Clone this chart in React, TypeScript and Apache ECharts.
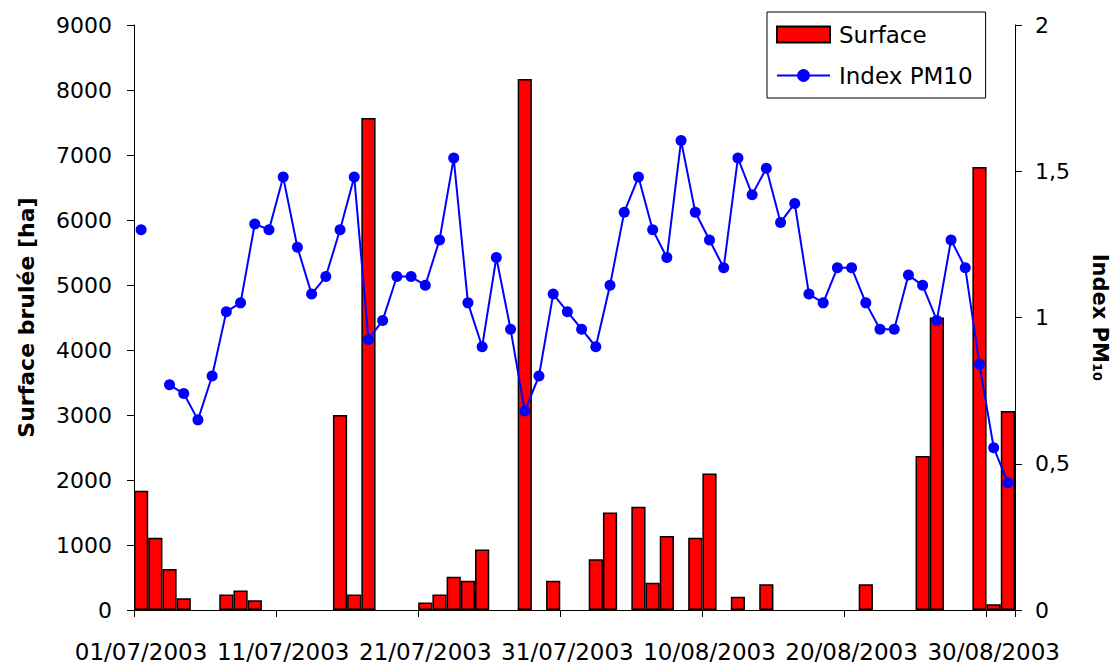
import React, { useEffect, useRef } from "react";
import * as echarts from "echarts";

const categories = [
  "01/07/2003", "02/07/2003", "03/07/2003", "04/07/2003", "05/07/2003", "06/07/2003", "07/07/2003", "08/07/2003", "09/07/2003", "10/07/2003",
  "11/07/2003", "12/07/2003", "13/07/2003", "14/07/2003", "15/07/2003", "16/07/2003", "17/07/2003", "18/07/2003", "19/07/2003", "20/07/2003",
  "21/07/2003", "22/07/2003", "23/07/2003", "24/07/2003", "25/07/2003", "26/07/2003", "27/07/2003", "28/07/2003", "29/07/2003", "30/07/2003",
  "31/07/2003", "01/08/2003", "02/08/2003", "03/08/2003", "04/08/2003", "05/08/2003", "06/08/2003", "07/08/2003", "08/08/2003", "09/08/2003",
  "10/08/2003", "11/08/2003", "12/08/2003", "13/08/2003", "14/08/2003", "15/08/2003", "16/08/2003", "17/08/2003", "18/08/2003", "19/08/2003",
  "20/08/2003", "21/08/2003", "22/08/2003", "23/08/2003", "24/08/2003", "25/08/2003", "26/08/2003", "27/08/2003", "28/08/2003", "29/08/2003",
  "30/08/2003", "31/08/2003",
];

// Surface brulée [ha]
const surface: (number | null)[] = [
  1835, 1110, 630, 180, null, null, 240, 300, 150, null,
  null, null, null, null, 3000, 240, 7570, null, null, null,
  115, 240, 510, 450, 930, null, null, 8170, null, 450,
  null, null, 780, 1500, null, 1590, 420, 1140, null, 1110,
  2100, null, 205, null, 395, null, null, null, null, null,
  null, 395, null, null, null, 2370, 4500, null, null, 6815,
  90, 3060,
];

// Index PM10
const pm10: (number | null)[] = [
  1.30, null, 0.77, 0.74, 0.65, 0.80, 1.02, 1.05, 1.32, 1.30,
  1.48, 1.24, 1.08, 1.14, 1.30, 1.48, 0.925, 0.99, 1.14, 1.14,
  1.11, 1.265, 1.545, 1.05, 0.90, 1.205, 0.96, 0.68, 0.80, 1.08,
  1.02, 0.96, 0.90, 1.11, 1.36, 1.48, 1.30, 1.205, 1.605, 1.36,
  1.265, 1.17, 1.545, 1.42, 1.51, 1.325, 1.39, 1.08, 1.05, 1.17,
  1.17, 1.05, 0.96, 0.96, 1.145, 1.11, 0.99, 1.265, 1.17, 0.84,
  0.555, 0.435,
];

const FONT = "DejaVu Sans";

export default function App() {
  const ref = useRef<HTMLDivElement>(null);

  useEffect(() => {
    if (!ref.current) return;
    const chart = echarts.init(ref.current, undefined, { renderer: "svg" });
    chart.setOption({
      animation: false,
      backgroundColor: "#fff",
      grid: { left: 134, right: 105, top: 25, bottom: 54, containLabel: false },
      legend: {
        orient: "vertical",
        left: 767,
        top: 12,
        itemWidth: 53,
        itemHeight: 16,
        itemGap: 18,
        padding: [11, 13, 11, 9],
        borderColor: "#000",
        borderWidth: 1,
        backgroundColor: "#fff",
        textStyle: { fontFamily: FONT, fontSize: 23, color: "#000", padding: [0, 0, 0, 4] },
        data: [{ name: "Surface", icon: "rect" }, { name: "Index PM10" }],
      },
      xAxis: {
        type: "category",
        data: categories,
        boundaryGap: true,
        axisLine: { show: true, lineStyle: { color: "#000", width: 1 } },
        axisTick: { show: true, interval: 9, length: 7, lineStyle: { color: "#000" } },
        axisLabel: {
          interval: 9,
          margin: 30,
          fontFamily: FONT,
          fontSize: 23,
          color: "#000",
        },
        splitLine: { show: false },
      },
      yAxis: [
        {
          type: "value",
          position: "left",
          min: 0,
          max: 9000,
          interval: 1000,
          axisLine: { show: true, lineStyle: { color: "#000", width: 1 } },
          axisTick: { show: true, length: 7, lineStyle: { color: "#000" } },
          axisLabel: {
            margin: 22,
            fontFamily: FONT,
            fontSize: 22,
            color: "#000",
            formatter: (v: number) => String(v),
          },
          splitLine: { show: false },
          name: "Surface brulée [ha]",
          nameLocation: "middle",
          nameRotate: 90,
          nameGap: 97,
          nameTextStyle: { fontFamily: FONT, fontSize: 22, fontWeight: "bold", color: "#000" },
        },
        {
          type: "value",
          position: "right",
          min: 0,
          max: 2,
          interval: 0.5,
          axisLine: { show: true, lineStyle: { color: "#000", width: 1 } },
          axisTick: { show: true, length: 7, lineStyle: { color: "#000" } },
          axisLabel: {
            margin: 20,
            fontFamily: FONT,
            fontSize: 22,
            color: "#000",
            formatter: (v: number) => String(v).replace(".", ","),
          },
          splitLine: { show: false },
          name: "Index PM₁₀",
          nameLocation: "middle",
          nameRotate: -90,
          nameGap: 74,
          nameTextStyle: { fontFamily: FONT, fontSize: 21, fontWeight: "bold", color: "#000" },
        },
      ],
      series: [
        {
          name: "Surface",
          type: "bar",
          yAxisIndex: 0,
          data: surface,
          barCategoryGap: "0%",
          itemStyle: { color: "#FF0000", borderColor: "#000", borderWidth: 1.5 },
        },
        {
          name: "Index PM10",
          type: "line",
          yAxisIndex: 1,
          data: pm10,
          connectNulls: false,
          symbol: "circle",
          symbolSize: 11,
          showSymbol: true,
          showAllSymbol: true,
          lineStyle: { color: "#0000FF", width: 2 },
          itemStyle: { color: "#0000FF" },
        },
      ],
    });
    return () => chart.dispose();
  }, []);

  return (
    <div
      ref={ref}
      style={{ position: "absolute", left: 0, top: 0, width: 1120, height: 664, background: "#fff" }}
    />
  );
}
